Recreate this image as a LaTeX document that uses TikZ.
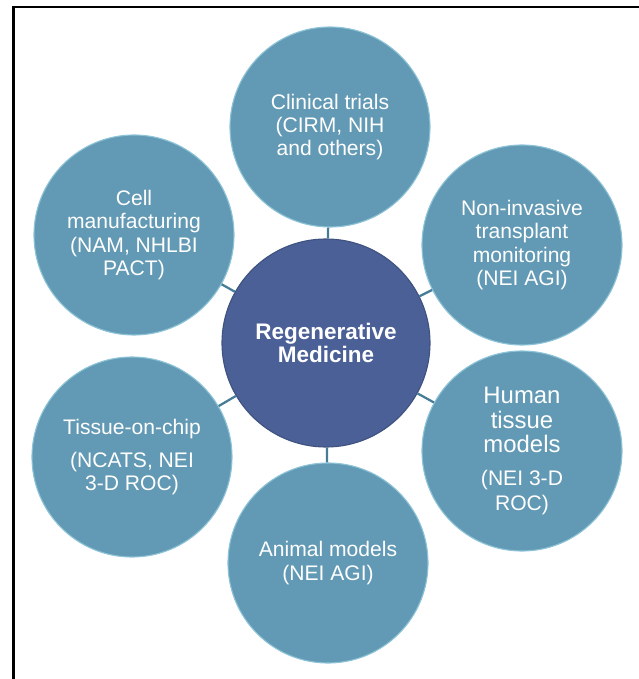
\documentclass[tikz,border=0pt]{standalone}
\usepackage{fontspec}
\setmainfont{Liberation Sans}
\definecolor{hubblue}{RGB}{74,96,150}
\definecolor{topicblue}{RGB}{98,153,180}
\definecolor{rimblue}{RGB}{140,195,215}
\definecolor{linkblue}{RGB}{70,125,150}
\newcommand{\topicsmall}{\fontsize{15}{16.5}\selectfont}

\begin{document}
\begin{tikzpicture}[
                hub/.style={circle, fill=hubblue, draw=hubblue!85!black, line width=0.8pt,
                            minimum size=5.2cm, inner sep=0pt, align=center, text=white,
                            font=\fontsize{16}{17}\selectfont\bfseries},
                topic/.style={circle, fill=topicblue, draw=rimblue, line width=0.8pt,
                              minimum size=5cm, inner sep=0pt, align=center, text=white,
                              font=\topicsmall},
                topic big/.style={topic, font=\fontsize{17}{17.5}\selectfont},
                link/.style={draw=linkblue, line width=1.6pt}]
                \useasboundingbox (-8.15,-8.4) rectangle (7.825,8.575);

                % Frame, only top and left edges show
                \draw[line width=1.8pt] (-7.81,-8.4) |- (7.825,8.4);

                % Centre
                \node[hub] (regen) at (0,0) {Regenerative\\Medicine};

                % Topics round the centre
                \node[topic] (clinical) at (0.1,5.4) {Clinical trials\\(CIRM, NIH\\and others)};
                \node[topic] (monitor) at (4.9,2.45) {Non-invasive\\transplant\\monitoring\\(NEI AGI)};
                \node[topic big] (human) at (4.9,-2.7) {Human\\tissue\\models\\[6pt]\topicsmall (NEI 3-D\\\topicsmall ROC)};
                \node[topic] (animal) at (0.05,-5.5) {Animal models\\(NEI AGI)};
                \node[topic] (chip) at (-4.85,-2.85) {Tissue-on-chip\\[7pt](NCATS, NEI\\3-D ROC)};
                \node[topic] (cellman) at (-4.8,2.7) {Cell\\manufacturing\\(NAM, NHLBI\\PACT)};

                % Spokes
                \draw[link] (regen) -- (clinical);
                \draw[link] (regen) -- (monitor);
                \draw[link] (regen) -- (human);
                \draw[link] (regen) -- (animal);
                \draw[link] (regen) -- (chip);
                \draw[link] (regen) -- (cellman);
            \end{tikzpicture}
\end{document}
